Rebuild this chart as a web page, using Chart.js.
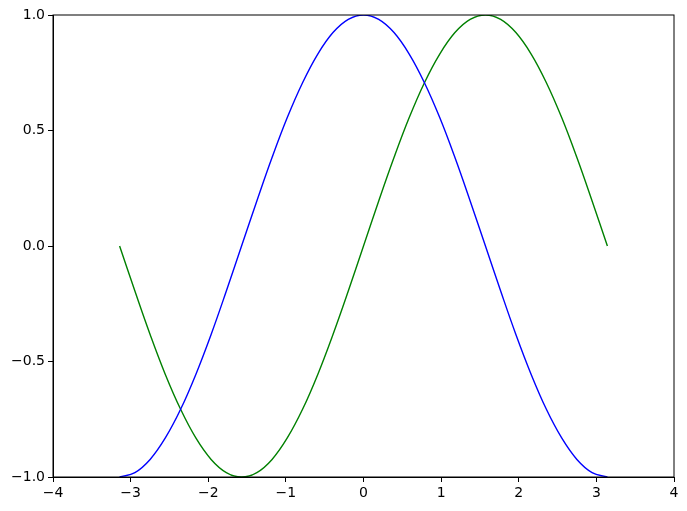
<!DOCTYPE html>
<html lang="en">
<head>
  <meta charset="UTF-8">
  <title>cos / sin</title>
  <script src="https://cdn.jsdelivr.net/npm/chart.js"></script>
  <style>
    html, body { margin: 0; padding: 0; background: #fff; }
    #wrap { width: 687px; height: 511px; }
  </style>
</head>
<body>
  <div id="wrap"><canvas id="trigChart"></canvas></div>

  <script>
    // x positions (step ~pi/16)
    const xs = [-3.142, -2.945, -2.749, -2.553, -2.356, -2.160, -1.963, -1.767, -1.571, -1.374, -1.178,
                -0.982, -0.785, -0.589, -0.393, -0.196, 0.000, 0.196, 0.393, 0.589, 0.785, 0.982,
                1.178, 1.374, 1.571, 1.767, 1.963, 2.160, 2.356, 2.553, 2.749, 2.945, 3.142];
    // blue curve
    const blueValues = [-1.000, -0.981, -0.924, -0.831, -0.707, -0.556, -0.383, -0.195, 0.000, 0.195, 0.383,
                        0.556, 0.707, 0.831, 0.924, 0.981, 1.000, 0.981, 0.924, 0.831, 0.707, 0.556,
                        0.383, 0.195, 0.000, -0.195, -0.383, -0.556, -0.707, -0.831, -0.924, -0.981, -1.000];
    // green curve
    const greenValues = [0.000, -0.195, -0.383, -0.556, -0.707, -0.831, -0.924, -0.981, -1.000, -0.981, -0.924,
                         -0.831, -0.707, -0.556, -0.383, -0.195, 0.000, 0.195, 0.383, 0.556, 0.707, 0.831,
                         0.924, 0.981, 1.000, 0.981, 0.924, 0.831, 0.707, 0.556, 0.383, 0.195, 0.000];
    const xTicks = [-4, -3, -2, -1, 0, 1, 2, 3, 4];
    const yTicks = [-1.0, -0.5, 0.0, 0.5, 1.0];

    const minus = s => s.replace('-', '\u2212');

    const frame = {
      id: 'frame',
      afterDatasetsDraw(chart) {
        const a = chart.chartArea, c = chart.ctx;
        c.save();
        c.strokeStyle = '#000';
        c.lineWidth = 1;
        c.strokeRect(a.left, a.top, a.right - a.left, a.bottom - a.top);
        c.restore();
      }
    };

    const pts = vals => xs.map((x, i) => ({ x: x, y: vals[i] }));

    new Chart(document.getElementById('trigChart'), {
      type: 'line',
      data: {
        datasets: [
          { data: pts(blueValues), borderColor: '#0000ff', borderWidth: 1.4,
            pointRadius: 0, tension: 0.4 },
          { data: pts(greenValues), borderColor: '#008000', borderWidth: 1.4,
            pointRadius: 0, tension: 0.4 }
        ]
      },
      plugins: [frame],
      options: {
        responsive: true,
        maintainAspectRatio: false,
        animation: false,
        layout: { padding: { top: 15, right: 13, left: 0, bottom: 0 } },
        plugins: { legend: { display: false }, tooltip: { enabled: false } },
        scales: {
          x: {
            type: 'linear', min: -4, max: 4,
            afterBuildTicks: ax => { ax.ticks = xTicks.map(v => ({ value: v })); },
            afterFit: ax => { ax.height = 34; },
            grid: { drawOnChartArea: false, tickLength: 5, tickColor: '#000' },
            border: { color: '#000' },
            ticks: { color: '#000', padding: 3, maxRotation: 0,
                     font: { family: 'DejaVu Sans', size: 14 },
                     callback: v => minus(String(v)) }
          },
          y: {
            type: 'linear', min: -1, max: 1,
            afterBuildTicks: ax => { ax.ticks = yTicks.map(v => ({ value: v })); },
            afterFit: ax => { ax.width = 53; },
            grid: { drawOnChartArea: false, tickLength: 5, tickColor: '#000' },
            border: { color: '#000' },
            ticks: { color: '#000', padding: 3,
                     font: { family: 'DejaVu Sans', size: 14 },
                     callback: v => minus(v.toFixed(1)) }
          }
        }
      }
    });
  </script>
</body>
</html>
